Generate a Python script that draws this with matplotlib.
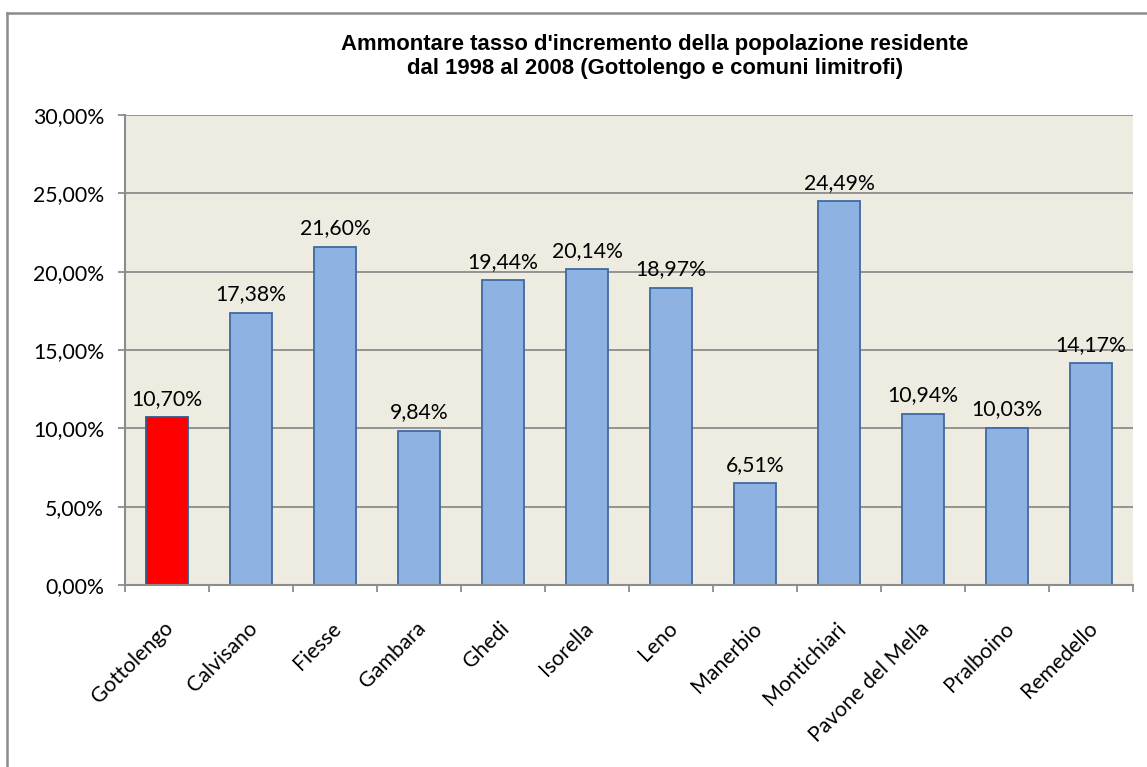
import matplotlib
matplotlib.use("Agg")
import matplotlib.pyplot as plt
from matplotlib.lines import Line2D
import numpy as np

comuni = ["Gottolengo", "Calvisano", "Fiesse", "Gambara", "Ghedi", "Isorella",
          "Leno", "Manerbio", "Montichiari", "Pavone del Mella", "Pralboino", "Remedello"]
incremento = [10.70, 17.38, 21.60, 9.84, 19.44, 20.14, 18.97, 6.51, 24.49, 10.94, 10.03, 14.17]
y_ticks = [0, 5, 10, 15, 20, 25, 30]

title = ("Ammontare tasso d'incremento della popolazione residente\n"
         "dal 1998 al 2008 (Gottolengo e comuni limitrofi)")

W, H = 1147, 767
fig = plt.figure(figsize=(W / 100, H / 100), dpi=100)
fig.patch.set_facecolor("white")

left, right, top, bottom = 125, 1133, 115, 585
ax = fig.add_axes([left / W, 1 - bottom / H, (right - left) / W, (bottom - top) / H])
ax.set_facecolor("#EEECE1")

label_font = "Lato"
fs = 15.3
x = np.arange(len(comuni))
colors = ["#FF0000"] + ["#8EB2E2"] * (len(comuni) - 1)
edges = ["#2F5B90"] + ["#3E6AA0"] * (len(comuni) - 1)
bars = ax.bar(x, incremento, width=0.5, color=colors, edgecolor=edges,
              linewidth=1.3, zorder=3)

def fmt(v):
    return f"{v:.2f}".replace(".", ",") + "%"

for xi, v in zip(x, incremento):
    ax.annotate(fmt(v), (xi, v), xytext=(0, 6), textcoords="offset points",
                ha="center", va="bottom", fontsize=fs, family=label_font,
                color="black")

ax.set_xlim(-0.5, len(comuni) - 0.5)
ax.set_ylim(0, 30)
ax.set_yticks(y_ticks)
ax.set_yticklabels([fmt(t) for t in y_ticks], fontsize=fs, family=label_font)
ax.yaxis.grid(True, color="#8C8C8C", linewidth=1.3, zorder=0)
ax.set_axisbelow(True)

# category boundary ticks, labels at category centres
ax.set_xticks(np.arange(len(comuni) + 1) - 0.5)
ax.set_xticklabels([])
ax.set_xticks(x + 0.04, minor=True)
ax.set_xticklabels(comuni, minor=True, rotation=45, ha="right", va="center",
                   rotation_mode="anchor", fontsize=fs, family=label_font)
ax.tick_params(axis="x", which="minor", length=0, pad=29)
ax.tick_params(axis="x", which="major", length=5, width=1.3, color="#8C8C8C")
ax.tick_params(axis="y", length=5, width=1.3, color="#8C8C8C", pad=10)

for s in ["top", "right"]:
    ax.spines[s].set_visible(False)
for s in ["left", "bottom"]:
    ax.spines[s].set_color("#8C8C8C")
    ax.spines[s].set_linewidth(1.5)
ax.spines["bottom"].set_zorder(4)

fig.text(655 / W, 1 - 34 / H, title, ha="center", va="top", fontsize=15.9,
         fontweight="bold", family="Liberation Sans", linespacing=1.2)

# chart frame
bx, by = 6.5 / W, 1 - 13 / H
fig.add_artist(Line2D([bx, bx], [0, by], transform=fig.transFigure,
                      color="#8C8C8C", linewidth=1.8))
fig.add_artist(Line2D([bx, 1], [by, by], transform=fig.transFigure,
                      color="#8C8C8C", linewidth=1.8))

fig.savefig("out.png", dpi=100)
